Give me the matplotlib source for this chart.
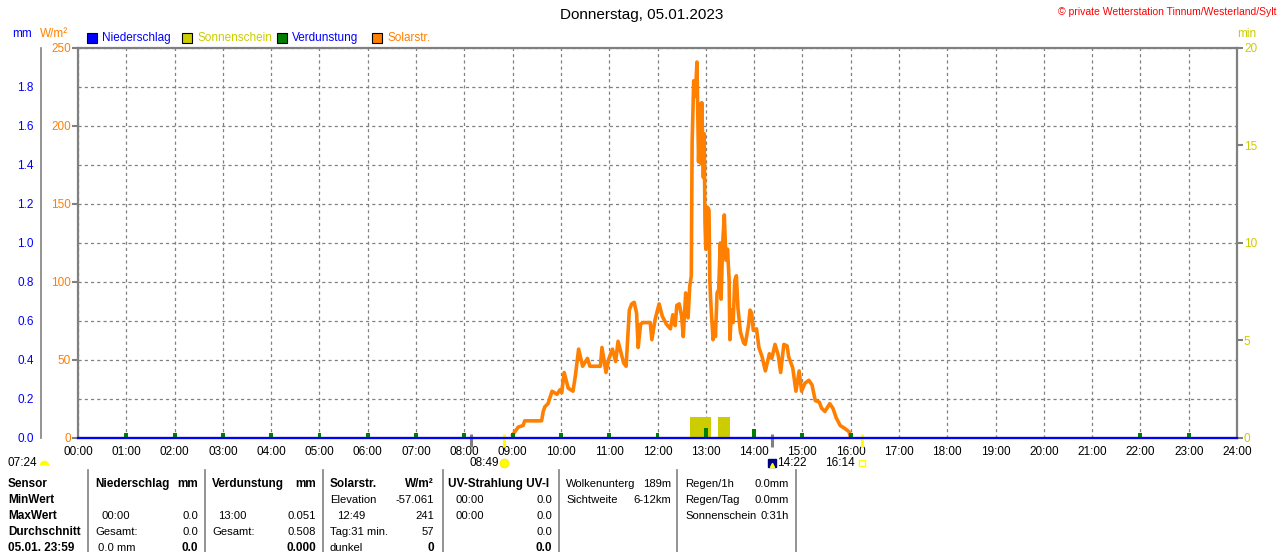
import numpy as np
import matplotlib.pyplot as plt
from matplotlib.patches import Rectangle
from matplotlib.lines import Line2D

plt.rcParams['font.family'] = ['Liberation Sans', 'DejaVu Sans']

W, H = 1280, 552


def hrs(t):
    h, m = t.split(':')
    return int(h) + int(m) / 60


# solar radiation (W/m2)
solar_times = [
    "09:00", "09:07", "09:13", "09:15", "09:36", "09:38", "09:40", "09:44", "09:49", "09:55",
    "09:59", "10:01", "10:04", "10:09", "10:15", "10:18", "10:22", "10:27", "10:33", "10:36",
    "10:49", "10:51", "10:56", "10:59", "11:04", "11:08", "11:11", "11:18", "11:21", "11:25",
    "11:28", "11:31", "11:34", "11:36", "11:39", "11:42", "11:51", "11:53", "11:57", "12:02",
    "12:06", "12:11", "12:16", "12:19", "12:22", "12:24", "12:27", "12:30", "12:32", "12:35",
    "12:38", "12:40", "12:42", "12:43", "12:45", "12:47", "12:49", "12:51", "12:53", "12:54",
    "12:55", "12:57", "12:58", "12:59", "13:00", "13:02", "13:04", "13:05", "13:06", "13:09",
    "13:10", "13:12", "13:14", "13:16", "13:18", "13:19", "13:21", "13:23", "13:25", "13:27",
    "13:29", "13:30", "13:32", "13:34", "13:36", "13:38", "13:40", "13:43", "13:47", "13:49",
    "13:53", "13:55", "13:57", "13:59", "14:03", "14:06", "14:10", "14:14", "14:19", "14:22",
    "14:26", "14:30", "14:33", "14:37", "14:41", "14:43", "14:48", "14:52", "14:56", "14:59",
    "15:03", "15:08", "15:12", "15:16", "15:21", "15:24", "15:28", "15:34", "15:38", "15:42",
    "15:47", "15:53", "15:58", "16:00",
]
solar_wm2 = [
    2, 7, 8, 11, 11, 17, 20, 22, 30, 28,
    31, 29, 42, 32, 30, 40, 57, 46, 51, 46,
    46, 58, 42, 50, 57, 49, 62, 48, 46, 82,
    86, 87, 80, 58, 73, 74, 74, 63, 76, 86,
    78, 73, 70, 79, 72, 85, 86, 78, 65, 93,
    77, 97, 104, 189, 229, 219, 241, 177, 214, 176,
    215, 167, 195, 138, 121, 148, 146, 101, 89, 63,
    74, 65, 93, 95, 125, 89, 125, 143, 114, 121,
    101, 63, 82, 74, 101, 104, 83, 68, 61, 60,
    72, 82, 80, 69, 70, 58, 52, 43, 54, 51,
    60, 53, 42, 60, 59, 52, 45, 30, 43, 30,
    35, 37, 34, 24, 23, 19, 17, 22, 19, 13,
    8, 6, 4, 0,
]

# precipitation (mm) per hour
rain_hours = list(range(25))
rain_mm = [0.0] * 25

# evaporation (mm) per hour
evap_hours = [1, 2, 3, 4, 5, 6, 7, 8, 9, 10, 11, 12, 13, 14, 15, 16, 22, 23]
evap_mm = [0.025, 0.025, 0.025, 0.025, 0.025, 0.025, 0.025, 0.025, 0.025,
           0.025, 0.025, 0.025, 0.051, 0.048, 0.025, 0.025, 0.025, 0.025]

# sunshine (min)
sun_start = ["12:40", "13:15"]
sun_end = ["13:06", "13:30"]
sun_min = [1.1, 1.1]

hour_labels = ["%02d:00" % h for h in range(25)]

# sun / moon events
moonset = "08:08"
dawn = "07:24"
sunrise = "08:49"
moonrise = "14:22"
sunset = "16:14"

ORANGE = '#ff8000'
YELLOW = '#cccc00'
BLUE = '#0000ff'
GREEN = '#008000'
GRAY = '#808080'
FS = 8.5


def fx(x):
    return x / W


def fy(y):
    return 1 - y / H


fig = plt.figure(figsize=(12.8, 5.52), dpi=100)
fig.patch.set_facecolor('white')
ax = fig.add_axes([fx(78), fy(438), (1237 - 78) / W, 390 / H])
ax_min = ax.twinx()
ax_mm = ax.twinx()
ax.set_zorder(1)
ax_min.set_zorder(2)
ax_mm.set_zorder(3)
ax_min.patch.set_visible(False)
ax_mm.patch.set_visible(False)

# main axis W/m2
ax.set_xlim(0, 24)
ax.set_ylim(0, 250)
ax.set_xticks(range(25))
ax.set_xticklabels(hour_labels)
ax.set_yticks(range(0, 251, 50))
ax.set_yticks(np.arange(25, 250, 50), minor=True)
ax.grid(True, which='major', axis='x', color=GRAY, ls=(0, (2.5, 2.5)), lw=0.9)
ax.grid(True, which='both', axis='y', color=GRAY, ls=(0, (2.5, 2.5)), lw=0.9)
ax.tick_params(axis='x', length=0, pad=6, labelsize=FS)
ax.tick_params(axis='y', which='major', length=4, color=GRAY, width=1.5,
               labelcolor=ORANGE, labelsize=FS, pad=1)
ax.tick_params(axis='y', which='minor', length=0)
for s in ax.spines.values():
    s.set_color(GRAY)
    s.set_linewidth(1.6)

t_solar = [hrs(t) for t in solar_times]
ax.plot(t_solar, solar_wm2, color=ORANGE, lw=2.6)

# sunshine axis (min)
ax_min.set_ylim(0, 20)
ax_min.set_yticks([0, 5, 10, 15, 20])
ax_min.tick_params(axis='y', length=4, color=GRAY, width=1.5,
                   labelcolor=YELLOW, labelsize=FS, pad=1)
for s in ax_min.spines.values():
    s.set_visible(False)
starts = [hrs(t) for t in sun_start]
widths = [hrs(e) - hrs(s) for s, e in zip(sun_start, sun_end)]
ax_min.bar(starts, sun_min, width=widths, align='edge', color=YELLOW, lw=0)

# mm axis on the left
ax_mm.set_ylim(0, 2.0)
ax_mm.set_yticks(np.arange(0, 1.81, 0.2))
ax_mm.set_yticklabels(["%.1f" % v for v in np.arange(0, 1.81, 0.2)])
ax_mm.yaxis.tick_left()
for k, s in ax_mm.spines.items():
    s.set_visible(k == 'left')
ax_mm.spines['left'].set_position(('outward', 27))
ax_mm.spines['left'].set_color(GRAY)
ax_mm.spines['left'].set_linewidth(1.2)
ax_mm.tick_params(axis='y', length=0, labelcolor=BLUE, labelsize=FS, pad=5)
ax_mm.bar(evap_hours, evap_mm, width=0.08, color=GREEN, lw=0)
ax_mm.plot(rain_hours, rain_mm, color=BLUE, lw=1.6, clip_on=False)

# event ticks on the time axis
xt = ax.get_xaxis_transform()
for t, c in [(moonset, GRAY), (moonrise, GRAY), (sunrise, '#ffff00'), (sunset, '#ffff00')]:
    ax.plot([hrs(t), hrs(t)], [0.01, -0.024], color=c, lw=2.2, transform=xt,
            clip_on=False, zorder=5, solid_capstyle='butt')

ey = -0.064
ax.plot(hrs(sunrise), ey, marker='o', ms=6, color='#ffff00', mec='#ffee00',
        transform=xt, clip_on=False)
ax.annotate(sunrise, (hrs(sunrise), ey), xycoords=xt, xytext=(-5, 0),
            textcoords='offset pixels', ha='right', va='center', fontsize=FS)
ax.plot(hrs(moonrise), ey, marker='s', ms=6, color='#000080',
        transform=xt, clip_on=False)
ax.plot(hrs(moonrise), ey - 0.005, marker='^', ms=3, color='#ffff00',
        transform=xt, clip_on=False)
ax.annotate(moonrise, (hrs(moonrise), ey), xycoords=xt, xytext=(5, 0),
            textcoords='offset pixels', ha='left', va='center', fontsize=FS)
ax.plot(hrs(sunset), ey, marker='s', ms=4, mfc='none', mec='#ffff00', mew=1,
        transform=xt, clip_on=False)
ax.annotate(sunset, (hrs(sunset), ey), xycoords=xt, xytext=(-7, 0),
            textcoords='offset pixels', ha='right', va='center', fontsize=FS)
fig.text(fx(8), fy(463), dawn, ha='left', va='center', fontsize=FS)
fig.add_artist(Line2D([fx(44)], [fy(465)], marker='o', ms=7, fillstyle='top',
                      markerfacecolor='#ffff00', markerfacecoloralt='none',
                      mew=0, transform=fig.transFigure))

# titles and units
fig.text(fx(642), fy(15), "Donnerstag, 05.01.2023", ha='center', va='center', fontsize=11)
fig.text(fx(1277), fy(12), "\u00a9 private Wetterstation Tinnum/Westerland/Sylt",
         ha='right', va='center', color='red', fontsize=7.5)
fig.text(fx(22), fy(34), "mm", ha='center', va='center', color=BLUE, fontsize=FS)
fig.text(fx(40), fy(34), "W/m\u00b2", ha='left', va='center', color=ORANGE, fontsize=FS)
fig.text(fx(1237), fy(34), "min", ha='left', va='center', color=YELLOW, fontsize=FS)

# legend
legend = [("Niederschlag", BLUE, BLUE, 87), ("Sonnenschein", YELLOW, YELLOW, 182),
          ("Verdunstung", GREEN, BLUE, 277), ("Solarstr.", ORANGE, ORANGE, 372)]
for name, fc, tc, x0 in legend:
    fig.add_artist(Rectangle((fx(x0), fy(43)), 10 / W, 10 / H, facecolor=fc,
                             edgecolor='black', lw=0.8, transform=fig.transFigure))
    fig.text(fx(x0 + 15), fy(38), name, ha='left', va='center', color=tc, fontsize=FS)

# info table
for x in [88, 205, 323, 443, 559, 677, 796]:
    fig.add_artist(Line2D([fx(x), fx(x)], [fy(470), fy(552)], color=GRAY, lw=1.2,
                          transform=fig.transFigure))

rows = [484, 500, 516, 532, 548]
cells = [
    (8, 0, "Sensor", 'left', True), (8, 1, "MinWert", 'left', True),
    (8, 2, "MaxWert", 'left', True), (8, 3, "Durchschnitt", 'left', True),
    (8, 4, "05.01. 23:59", 'left', True),
    (95, 0, "Niederschlag", 'left', True), (198, 0, "mm", 'right', True),
    (101, 2, "00:00", 'left', False), (198, 2, "0.0", 'right', False),
    (95, 3, "Gesamt:", 'left', False), (198, 3, "0.0", 'right', False),
    (98, 4, "0.0 mm", 'left', False), (198, 4, "0.0", 'right', True),
    (212, 0, "Verdunstung", 'left', True), (316, 0, "mm", 'right', True),
    (218, 2, "13:00", 'left', False), (316, 2, "0.051", 'right', False),
    (212, 3, "Gesamt:", 'left', False), (316, 3, "0.508", 'right', False),
    (316, 4, "0.000", 'right', True),
    (330, 0, "Solarstr.", 'left', True), (434, 0, "W/m\u00b2", 'right', True),
    (330, 1, "Elevation", 'left', False), (434, 1, "-57.061", 'right', False),
    (337, 2, "12:49", 'left', False), (434, 2, "241", 'right', False),
    (330, 3, "Tag:31 min.", 'left', False), (434, 3, "57", 'right', False),
    (330, 4, "dunkel", 'left', False), (434, 4, "0", 'right', True),
    (448, 0, "UV-Strahlung UV-I", 'left', True),
    (455, 1, "00:00", 'left', False), (552, 1, "0.0", 'right', False),
    (455, 2, "00:00", 'left', False), (552, 2, "0.0", 'right', False),
    (552, 3, "0.0", 'right', False), (552, 4, "0.0", 'right', True),
    (566, 0, "Wolkenunterg", 'left', False), (671, 0, "189m", 'right', False),
    (566, 1, "Sichtweite", 'left', False), (671, 1, "6-12km", 'right', False),
    (685, 0, "Regen/1h", 'left', False), (789, 0, "0.0mm", 'right', False),
    (685, 1, "Regen/Tag", 'left', False), (789, 1, "0.0mm", 'right', False),
    (685, 2, "Sonnenschein", 'left', False), (789, 2, "0:31h", 'right', False),
]
for x, r, txt, ha, bold in cells:
    fig.text(fx(x), fy(rows[r]), txt, ha=ha, va='center',
             fontsize=FS if bold else 8.1,
             fontweight='bold' if bold else 'normal')

fig.savefig('out.png', dpi=100)
